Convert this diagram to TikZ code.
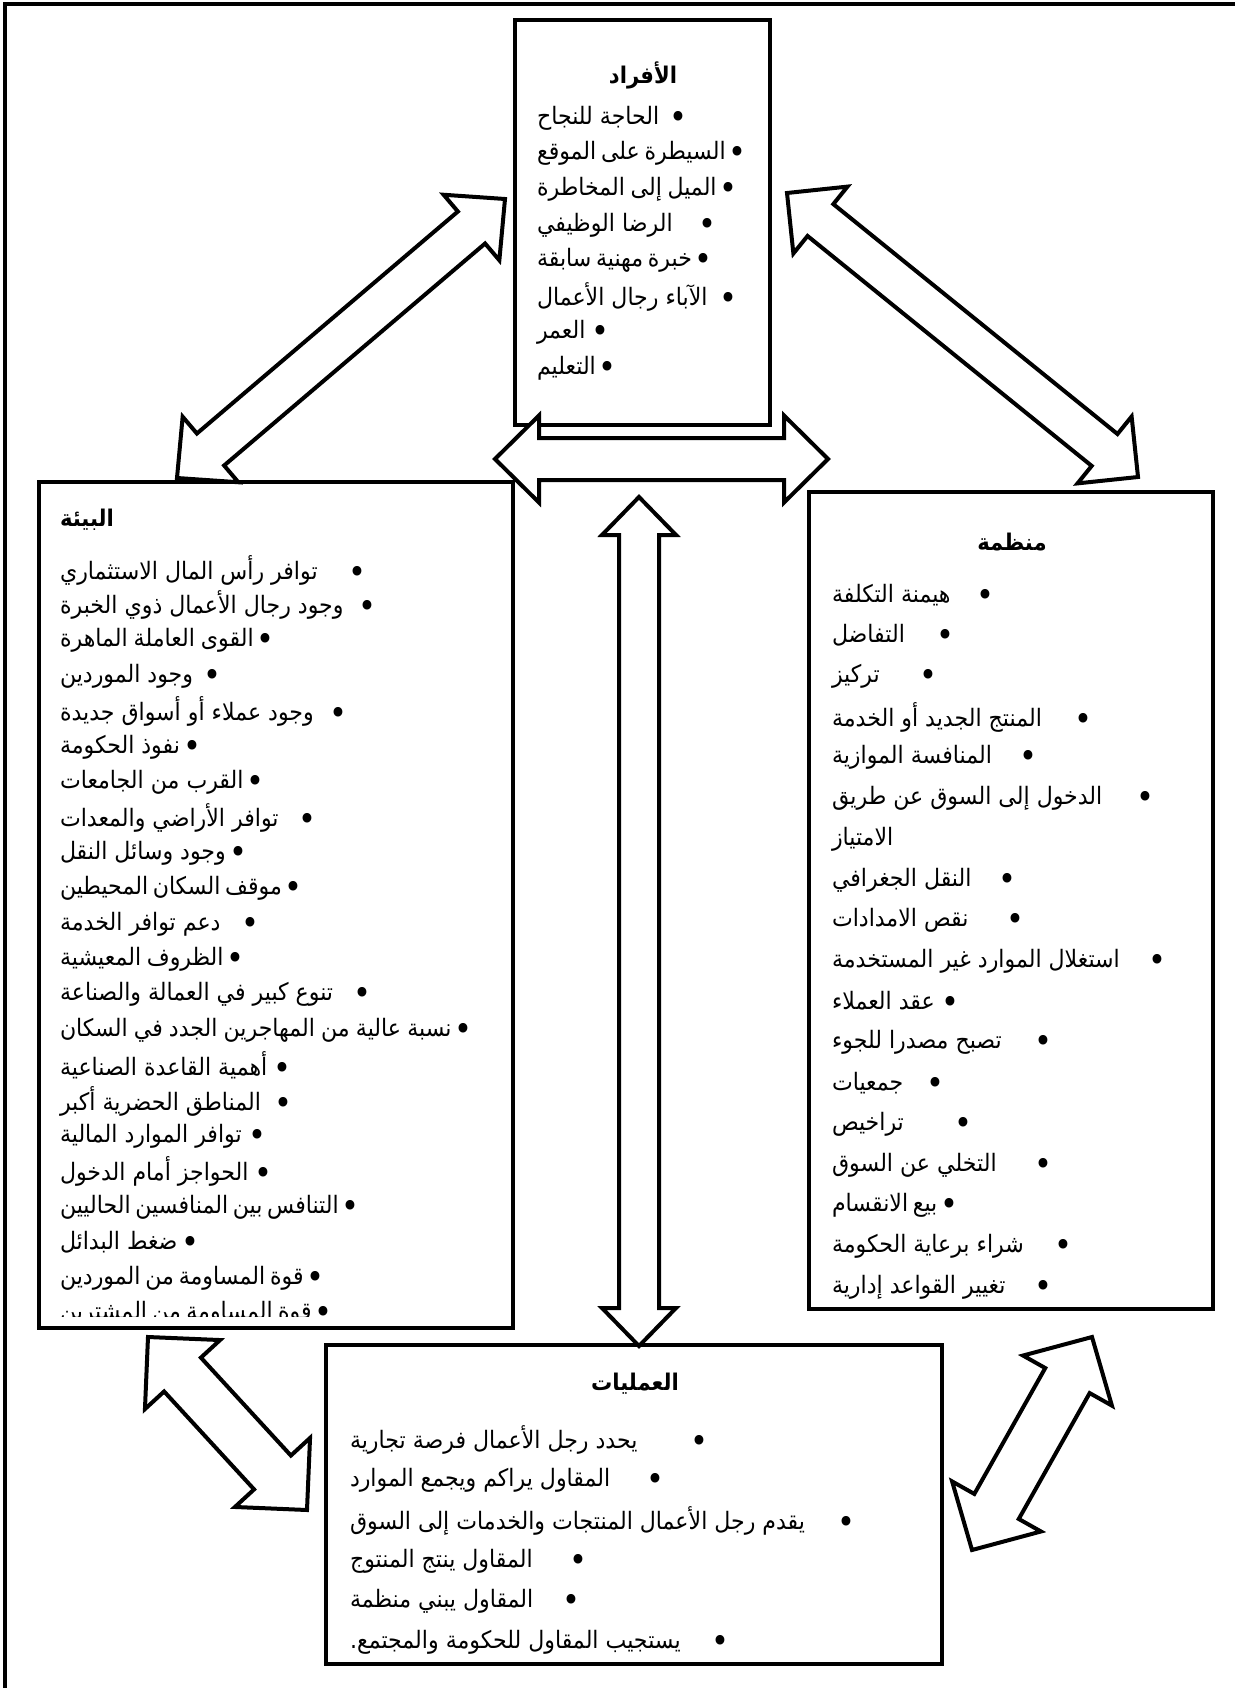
\documentclass[tikz,border=0pt]{standalone}
\usepackage{fontspec}
\usetikzlibrary{calc}
\TeXXeTstate=1
\hbadness=10000 \hfuzz=2000pt
\newfontfamily\arabicfont[Script=Arabic, FakeStretch=0.92]{DejaVu Sans}
\newcommand{\itemfont}{\arabicfont\fontsize{24}{28}\selectfont}
\newcommand{\ar}[1]{\beginR #1\endR}
\newcommand{\blt}{\raisebox{-4pt}{\fontsize{33}{28}\selectfont •}}
% bulleted line: name, left x, y, bullet centre x, text;
% the bullet sits at its own column, or just after the text when that is longer
\newcommand{\bitem}[5]{%
  \node[item] (#1) at (#2,#3)
    {\hbox to \dimexpr #4pt-#2pt+9.5pt\relax{\ar{\ignorespaces#5\unskip}\hskip 3pt plus 1fill\blt}};}
% two-headed block arrow between tips #1 and #2:
% #3 head length, #4 half head width, #5 half shaft width
\newcommand{\dblarrow}[5]{%
  \draw[blockarrow]
    ($(#1)!#3!(#2)!#5!90:(#2)$) -- ($(#1)!#3!(#2)!#4!90:(#2)$) -- (#1)
    -- ($(#1)!#3!(#2)!#4!-90:(#2)$) -- ($(#1)!#3!(#2)!#5!-90:(#2)$)
    -- ($(#2)!#3!(#1)!#5!90:(#1)$) -- ($(#2)!#3!(#1)!#4!90:(#1)$) -- (#2)
    -- ($(#2)!#3!(#1)!#4!-90:(#1)$) -- ($(#2)!#3!(#1)!#5!-90:(#1)$) -- cycle;}

\begin{document}
\begin{tikzpicture}[x=1pt,y=-1pt,
  every node/.style={inner sep=0pt, outer sep=0pt},
  panel/.style={draw, line width=4pt, fill=white, anchor=north west},
  blockarrow/.style={draw, line width=4pt, fill=white, line join=miter},
  item/.style={anchor=west, font=\itemfont},
  heading/.style={font={\arabicfont\bfseries\fontsize{23}{28}\selectfont}}]

\useasboundingbox (0,0) rectangle (1234,1688);
\draw[line width=4pt] (1240,4) -- (5,4) -- (5,1694);

% panels
\node[panel, minimum width=255pt, minimum height=405pt] (ind) at (515,20) {};
\node[panel, minimum width=474pt, minimum height=846pt] (env) at (39,482) {};
\node[panel, minimum width=404pt, minimum height=817pt] (org) at (809,492) {};
\node[panel, minimum width=616pt, minimum height=319pt] (ops) at (326,1345) {};

% individuals
\node[heading] (ind-title) at (643,75) {\ar{الأفراد}};
\foreach \b/\t [count=\i from 0] in {
  678/الحاجة للنجاح,
  737/السيطرة على الموقع,
  728/الميل إلى المخاطرة,
  707/الرضا الوظيفي,
  700/خبرة مهنية سابقة,
  728/الآباء رجال الأعمال,
  600/العمر,
  605/التعليم}
  {\bitem{ind-\i}{537}{118+35.7*\i}{\b}{\t}}

% environment
\begin{scope}
\clip (41,484) rectangle (511,1316);
\node[heading, anchor=west] (env-title) at (60,520) {\ar{البيئة}};
\foreach \b/\t [count=\i from 0] in {
  357/توافر رأس المال الاستثماري,
  367/وجود رجال الأعمال ذوي الخبرة,
  265/القوى العاملة الماهرة,
  212/وجود الموردين,
  338/وجود عملاء أو أسواق جديدة,
  192/نفوذ الحكومة,
  255/القرب من الجامعات,
  307/توافر الأراضي والمعدات,
  238/وجود وسائل النقل,
  292/موقف السكان المحيطين,
  250/دعم توافر الخدمة,
  235/الظروف المعيشية,
  362/تنوع كبير في العمالة والصناعة,
  463/نسبة عالية من المهاجرين الجدد في السكان,
  282/أهمية القاعدة الصناعية,
  283/المناطق الحضرية أكبر,
  257/توافر الموارد المالية,
  263/الحواجز أمام الدخول,
  343/التنافس بين المنافسين الحاليين,
  190/ضغط البدائل,
  315/قوة المساومة من الموردين,
  323/قوة المساومة من المشترين}
  {\bitem{env-\i}{60}{570+35.4*\i}{\b}{\t}}
\end{scope}

% organisation
\node[heading] (org-title) at (1012,542) {\ar{منظمة}};
\foreach \b/\t/\k in {
  985/هيمنة التكلفة/0,
  945/التفاضل/1,
  928/تركيز/2,
  1083/المنتج الجديد أو الخدمة/3,
  1028/المنافسة الموازية/4,
  1145/الدخول إلى السوق عن طريق/5,
  1007/النقل الجغرافي/7,
  1015/نقص الامدادات/8,
  1157/استغلال الموارد غير المستخدمة/9,
  950/عقد العملاء/10,
  1043/تصبح مصدرا للجوء/11,
  935/جمعيات/12,
  963/تراخيص/13,
  1043/التخلي عن السوق/14,
  948/بيع الانقسام/15,
  1063/شراء برعاية الحكومة/16,
  1043/تغيير القواعد إدارية/17}
  {\bitem{org-\k}{832}{595+40.7*\k}{\b}{\t}}
\node[item] (org-6) at (832,595+40.7*6) {\ar{الامتياز}};

% operations
\node[heading] (ops-title) at (635,1384) {\ar{العمليات}};
\foreach \b/\t [count=\i from 0] in {
  699/يحدد رجل الأعمال فرصة تجارية,
  655/المقاول يراكم ويجمع الموارد,
  846/يقدم رجل الأعمال المنتجات والخدمات إلى السوق,
  578/المقاول ينتج المنتوج,
  571/المقاول يبني منظمة,
  720/يستجيب المقاول للحكومة والمجتمع.}
  {\bitem{ops-\i}{350}{1440+40.4*\i}{\b}{\t}}

% arrow tips
\coordinate (a1) at (505,199);  \coordinate (a2) at (177,478);
\coordinate (b1) at (787,193);  \coordinate (b2) at (1138,477);
\coordinate (c1) at (495,459);  \coordinate (c2) at (828,459);
\coordinate (d1) at (639,497);  \coordinate (d2) at (639,1346);
\coordinate (e1) at (148,1337); \coordinate (e2) at (307,1510);
\coordinate (f1) at (1092,1337); \coordinate (f2) at (972,1550);

\dblarrow{a1}{a2}{44pt}{43pt}{21pt}
\dblarrow{b1}{b2}{43pt}{43pt}{20.5pt}
\dblarrow{c1}{c2}{44pt}{43.5pt}{21pt}
\dblarrow{d1}{d2}{38pt}{37pt}{20pt}
\dblarrow{e1}{e2}{51pt}{51pt}{25pt}
\dblarrow{f1}{f2}{50pt}{51pt}{25.5pt}
\end{tikzpicture}
\end{document}
